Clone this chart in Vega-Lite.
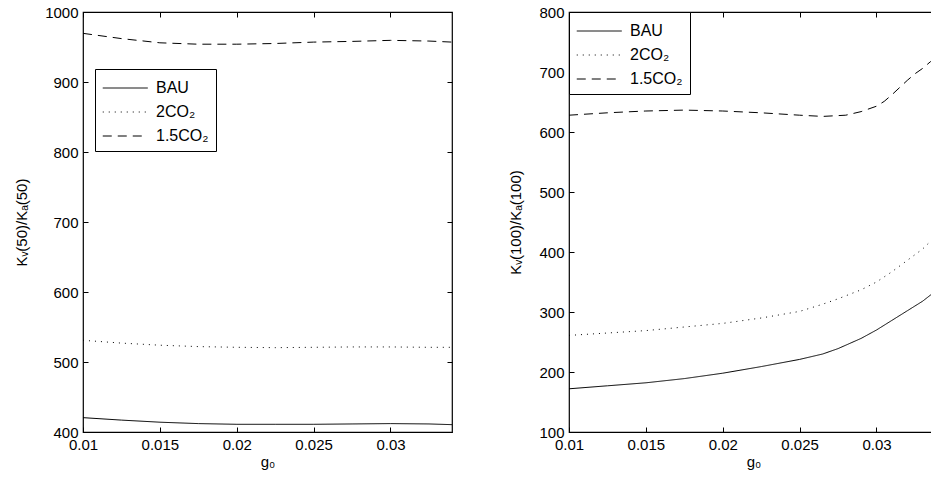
{
  "$schema": "https://vega.github.io/schema/vega-lite/v6.json",
  "padding": {"left": 14, "top": 4, "right": 0, "bottom": 0},
  "background": "#ffffff",
  "datasets": {
    "p50": [
      {"g": 0.01, "s": "BAU", "v": 420.5}, {"g": 0.0125, "s": "BAU", "v": 417}, {"g": 0.015, "s": "BAU", "v": 414}, {"g": 0.0175, "s": "BAU", "v": 412}, {"g": 0.02, "s": "BAU", "v": 411}, {"g": 0.0225, "s": "BAU", "v": 411}, {"g": 0.025, "s": "BAU", "v": 411}, {"g": 0.0275, "s": "BAU", "v": 411.5}, {"g": 0.03, "s": "BAU", "v": 412}, {"g": 0.0325, "s": "BAU", "v": 411.5}, {"g": 0.034, "s": "BAU", "v": 410.5},
      {"g": 0.01, "s": "2CO₂", "v": 531}, {"g": 0.0125, "s": "2CO₂", "v": 527}, {"g": 0.015, "s": "2CO₂", "v": 524}, {"g": 0.0175, "s": "2CO₂", "v": 522}, {"g": 0.02, "s": "2CO₂", "v": 521}, {"g": 0.0225, "s": "2CO₂", "v": 520.5}, {"g": 0.025, "s": "2CO₂", "v": 521}, {"g": 0.0275, "s": "2CO₂", "v": 521.5}, {"g": 0.03, "s": "2CO₂", "v": 521.5}, {"g": 0.0325, "s": "2CO₂", "v": 521}, {"g": 0.034, "s": "2CO₂", "v": 521},
      {"g": 0.01, "s": "1.5CO₂", "v": 969.5}, {"g": 0.0125, "s": "1.5CO₂", "v": 962}, {"g": 0.015, "s": "1.5CO₂", "v": 956}, {"g": 0.0175, "s": "1.5CO₂", "v": 954}, {"g": 0.02, "s": "1.5CO₂", "v": 954}, {"g": 0.0225, "s": "1.5CO₂", "v": 955}, {"g": 0.025, "s": "1.5CO₂", "v": 957}, {"g": 0.0275, "s": "1.5CO₂", "v": 958}, {"g": 0.03, "s": "1.5CO₂", "v": 959.5}, {"g": 0.0325, "s": "1.5CO₂", "v": 958.5}, {"g": 0.034, "s": "1.5CO₂", "v": 957}
    ],
    "p100": [
      {"g": 0.01, "s": "BAU", "v": 172}, {"g": 0.0125, "s": "BAU", "v": 177}, {"g": 0.015, "s": "BAU", "v": 182}, {"g": 0.0175, "s": "BAU", "v": 189}, {"g": 0.02, "s": "BAU", "v": 198}, {"g": 0.0225, "s": "BAU", "v": 209}, {"g": 0.025, "s": "BAU", "v": 221}, {"g": 0.0265, "s": "BAU", "v": 230}, {"g": 0.0275, "s": "BAU", "v": 239}, {"g": 0.029, "s": "BAU", "v": 256}, {"g": 0.03, "s": "BAU", "v": 270}, {"g": 0.031, "s": "BAU", "v": 286}, {"g": 0.032, "s": "BAU", "v": 302}, {"g": 0.033, "s": "BAU", "v": 318}, {"g": 0.0336, "s": "BAU", "v": 330}, {"g": 0.034, "s": "BAU", "v": 339},
      {"g": 0.01, "s": "2CO₂", "v": 261}, {"g": 0.0125, "s": "2CO₂", "v": 265}, {"g": 0.015, "s": "2CO₂", "v": 269}, {"g": 0.0175, "s": "2CO₂", "v": 275}, {"g": 0.02, "s": "2CO₂", "v": 281}, {"g": 0.0225, "s": "2CO₂", "v": 290}, {"g": 0.025, "s": "2CO₂", "v": 301}, {"g": 0.0265, "s": "2CO₂", "v": 313}, {"g": 0.0275, "s": "2CO₂", "v": 322}, {"g": 0.029, "s": "2CO₂", "v": 337}, {"g": 0.03, "s": "2CO₂", "v": 350}, {"g": 0.031, "s": "2CO₂", "v": 367}, {"g": 0.032, "s": "2CO₂", "v": 386}, {"g": 0.033, "s": "2CO₂", "v": 405}, {"g": 0.0334, "s": "2CO₂", "v": 415}, {"g": 0.034, "s": "2CO₂", "v": 426},
      {"g": 0.01, "s": "1.5CO₂", "v": 628}, {"g": 0.0125, "s": "1.5CO₂", "v": 632}, {"g": 0.015, "s": "1.5CO₂", "v": 635}, {"g": 0.0175, "s": "1.5CO₂", "v": 636.5}, {"g": 0.02, "s": "1.5CO₂", "v": 635}, {"g": 0.0225, "s": "1.5CO₂", "v": 632}, {"g": 0.025, "s": "1.5CO₂", "v": 628}, {"g": 0.0265, "s": "1.5CO₂", "v": 626}, {"g": 0.028, "s": "1.5CO₂", "v": 628}, {"g": 0.029, "s": "1.5CO₂", "v": 634}, {"g": 0.03, "s": "1.5CO₂", "v": 643}, {"g": 0.0305, "s": "1.5CO₂", "v": 651}, {"g": 0.031, "s": "1.5CO₂", "v": 662}, {"g": 0.0315, "s": "1.5CO₂", "v": 674}, {"g": 0.032, "s": "1.5CO₂", "v": 686}, {"g": 0.0325, "s": "1.5CO₂", "v": 697}, {"g": 0.033, "s": "1.5CO₂", "v": 706}, {"g": 0.0335, "s": "1.5CO₂", "v": 717}, {"g": 0.034, "s": "1.5CO₂", "v": 727}
    ]
  },
  "config": {
    "font": "Liberation Sans",
    "view": {"stroke": "#000000", "strokeWidth": 1.2},
    "axis": {
      "domain": false, "grid": false, "ticks": true, "tickSize": -5, "tickColor": "#000000", "tickWidth": 1,
      "labelFlush": false, "labelOverlap": false,
      "labelFont": "Liberation Sans", "labelFontSize": 15, "labelColor": "#000000",
      "titleFont": "Liberation Sans", "titleFontSize": 15, "titleFontWeight": "normal", "titleColor": "#000000"
    },
    "legend": {
      "title": null, "symbolType": "M-1,0H3", "symbolSize": 506, "symbolStrokeWidth": 1, "symbolStrokeColor": "#000000",
      "labelFont": "Liberation Sans", "labelFontSize": 16, "labelColor": "#000000", "labelOffset": 30,
      "labelExpr": "datum.label + '\u00a0\u00a0\u00a0'",
      "padding": 7, "rowPadding": 4, "strokeColor": "#000000", "fillColor": "#ffffff"
    }
  },
  "spacing": 53,
  "resolve": {"scale": {"strokeDash": "independent"}, "legend": {"strokeDash": "independent"}},
  "hconcat": [
    {
      "width": 369, "height": 420,
      "data": {"name": "p50"},
      "layer": [
        {
          "mark": {"type": "line", "color": "#000000", "strokeWidth": 1},
          "encoding": {
            "x": {"field": "g", "type": "quantitative", "scale": {"domain": [0.01, 0.034], "nice": false, "zero": false},
                  "axis": {"values": [0.01, 0.015, 0.02, 0.025, 0.03], "format": "~g", "title": "g₀", "labelPadding": 10, "titlePadding": 2}},
            "y": {"field": "v", "type": "quantitative", "scale": {"domain": [400, 1000], "nice": false, "zero": false},
                  "axis": {"values": [400, 500, 600, 700, 800, 900, 1000], "format": "d", "title": "Kᵥ(50)/Kₐ(50)", "labelPadding": 10, "titlePadding": 15}},
            "strokeDash": {"field": "s", "type": "nominal", "scale": {"domain": ["BAU", "2CO₂", "1.5CO₂"], "range": [[1, 0], [1, 5], [9, 6]]},
                  "legend": {"orient": "none", "legendX": 12, "legendY": 57}}
          }
        },
        {
          "mark": {"type": "line", "opacity": 0},
          "encoding": {
            "x": {"field": "g", "type": "quantitative", "axis": {"orient": "top", "values": [0.01, 0.015, 0.02, 0.025, 0.03], "labels": false, "title": null}},
            "y": {"field": "v", "type": "quantitative", "axis": {"orient": "right", "values": [400, 500, 600, 700, 800, 900, 1000], "labels": false, "title": null}},
            "detail": {"field": "s"}
          }
        }
      ],
      "resolve": {"axis": {"x": "independent", "y": "independent"}}
    },
    {
      "width": 369, "height": 420,
      "data": {"name": "p100"},
      "layer": [
        {
          "mark": {"type": "line", "color": "#000000", "strokeWidth": 1},
          "encoding": {
            "x": {"field": "g", "type": "quantitative", "scale": {"domain": [0.01, 0.034], "nice": false, "zero": false},
                  "axis": {"values": [0.01, 0.015, 0.02, 0.025, 0.03], "format": "~g", "title": "g₀", "labelPadding": 10, "titlePadding": 2}},
            "y": {"field": "v", "type": "quantitative", "scale": {"domain": [100, 800], "nice": false, "zero": false},
                  "axis": {"values": [100, 200, 300, 400, 500, 600, 700, 800], "format": "d", "title": "Kᵥ(100)/Kₐ(100)", "labelPadding": 10, "titlePadding": 15}},
            "strokeDash": {"field": "s", "type": "nominal", "scale": {"domain": ["BAU", "2CO₂", "1.5CO₂"], "range": [[1, 0], [1, 5], [9, 6]]},
                  "legend": {"orient": "none", "legendX": 0, "legendY": 0}}
          }
        },
        {
          "mark": {"type": "line", "opacity": 0},
          "encoding": {
            "x": {"field": "g", "type": "quantitative", "axis": {"orient": "top", "values": [0.01, 0.015, 0.02, 0.025, 0.03], "labels": false, "title": null}},
            "y": {"field": "v", "type": "quantitative", "axis": {"orient": "right", "values": [100, 200, 300, 400, 500, 600, 700, 800], "labels": false, "title": null}},
            "detail": {"field": "s"}
          }
        }
      ],
      "resolve": {"axis": {"x": "independent", "y": "independent"}}
    }
  ]
}
